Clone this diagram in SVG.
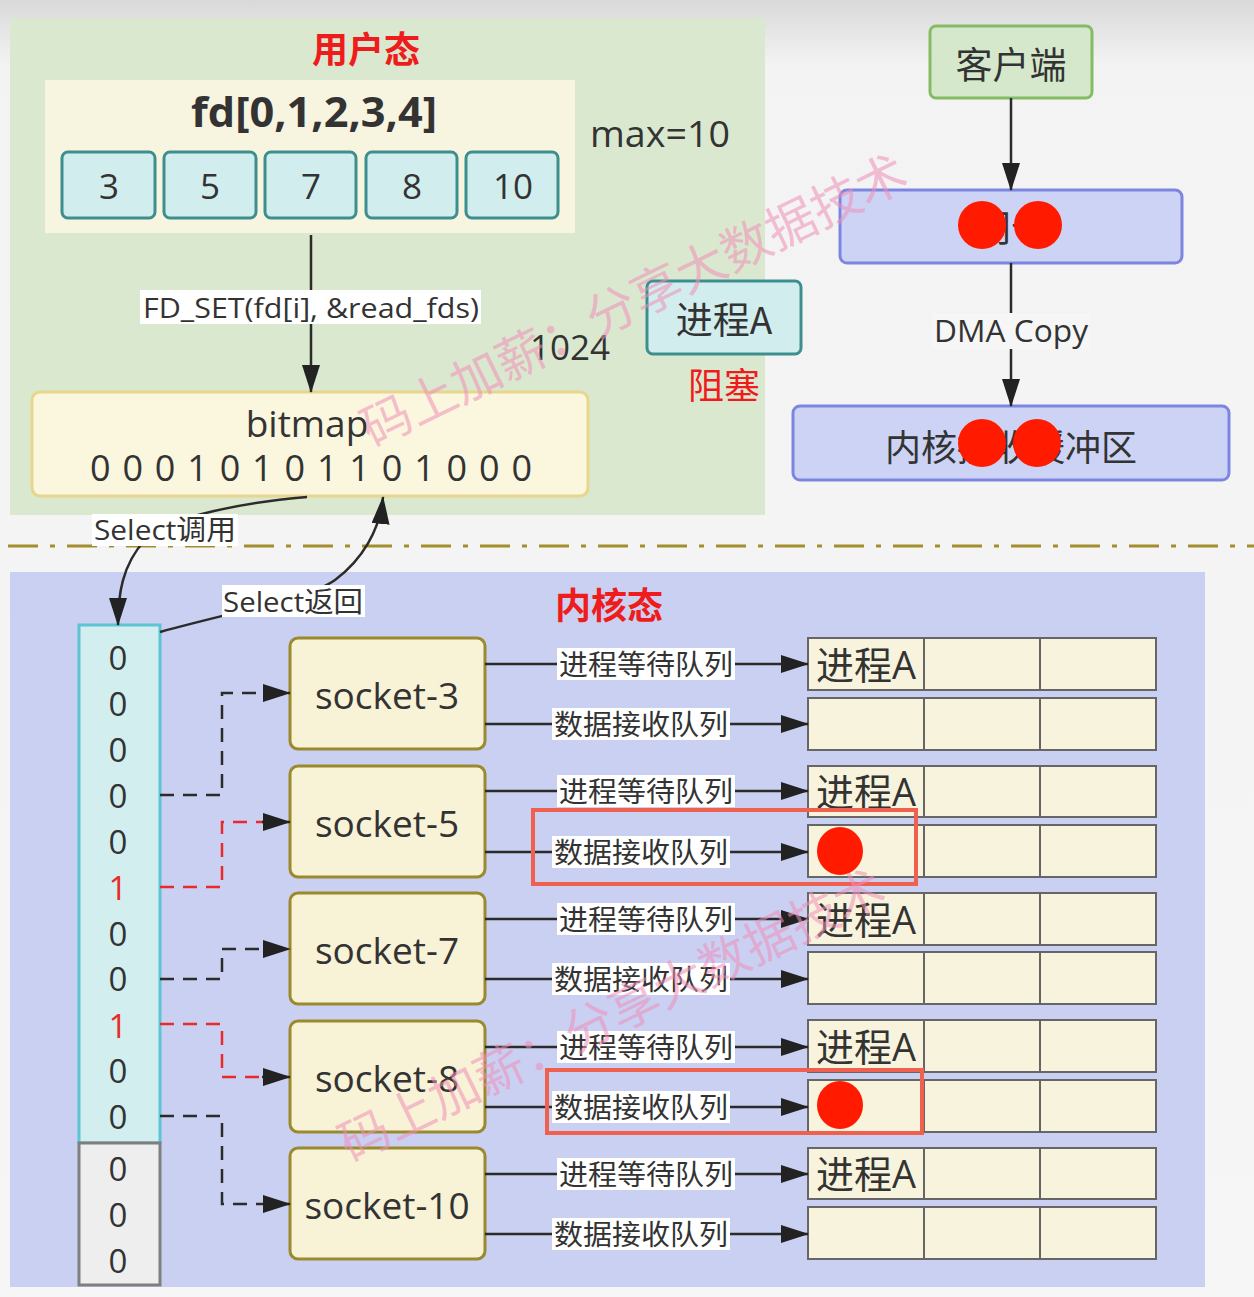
<svg xmlns="http://www.w3.org/2000/svg" width="1254" height="1297" viewBox="0 0 1254 1297">
<defs>
<linearGradient id="bg" x1="0" y1="0" x2="0" y2="1">
<stop offset="0" stop-color="#d9d9d9"/>
<stop offset="0.05" stop-color="#f3f3f3"/>
<stop offset="1" stop-color="#f6f6f6"/>
</linearGradient>
<marker id="ah" viewBox="0 0 28 18" refX="27" refY="9" markerWidth="28" markerHeight="18" markerUnits="userSpaceOnUse" orient="auto">
<path d="M0,0 L28,9 L0,18 Z" fill="#222"/>
</marker>
<style>
text{font-family:"Open Sans","Noto Sans CJK SC",sans-serif;fill:#333;dominant-baseline:central;text-anchor:middle}
.cjk{font-family:"Noto Sans CJK SC",sans-serif}
.red{fill:#ee1c1c;font-weight:bold}
.fdbox{fill:#d2eded;stroke:#3d8f8f;stroke-width:3}
.sock{fill:#f8f2d6;stroke:#9a8a2e;stroke-width:3}
.cell{fill:#f7f3dc;stroke:#666;stroke-width:2}
.lav{fill:#cdd3f4;stroke:#7c86e0;stroke-width:3}
.conn{fill:none;stroke:#2b2b2b;stroke-width:2.5}
.dash{fill:none;stroke:#2b2b2b;stroke-width:2.5;stroke-dasharray:14 9}
.rdash{fill:none;stroke:#e82a2a;stroke-width:2.5;stroke-dasharray:14 9}
.lbl{fill:#ffffff}
.hl{fill:none;stroke:#f0604e;stroke-width:4}
.dot{fill:#ff1a00}
.wm{fill:#f090b8;opacity:0.55;font-size:50px;text-anchor:start;dominant-baseline:alphabetic;font-family:"Noto Sans CJK SC",sans-serif}
</style>
</defs>
<rect x="0" y="0" width="1254" height="1297" fill="url(#bg)"/>

<!-- user space panel -->
<g id="user-panel">
<rect x="10" y="18" width="755" height="497" fill="#dae8d0"/>
<text x="366" y="47" class="red cjk" font-size="36">用户态</text>
</g>

<g id="fd-array">
<rect x="45" y="80" width="530" height="153" fill="#f7f4df"/>
<text x="314" y="110" font-size="42" font-weight="bold" textLength="246" lengthAdjust="spacingAndGlyphs">fd[0,1,2,3,4]</text>
<rect class="fdbox" x="62" y="152" width="93" height="66" rx="6"/>
<text x="109" y="185" font-size="35">3</text>
<rect class="fdbox" x="164" y="152" width="92" height="66" rx="6"/>
<text x="210" y="185" font-size="35">5</text>
<rect class="fdbox" x="265" y="152" width="91" height="66" rx="6"/>
<text x="311" y="185" font-size="35">7</text>
<rect class="fdbox" x="366" y="152" width="91" height="66" rx="6"/>
<text x="412" y="185" font-size="35">8</text>
<rect class="fdbox" x="466" y="152" width="92" height="66" rx="6"/>
<text x="513" y="185" font-size="35">10</text>
</g>

<g id="max-label"><text x="660" y="133" font-size="36" textLength="140" lengthAdjust="spacingAndGlyphs">max=10</text></g>
<g id="n1024"><text x="570" y="346" font-size="35">1024</text></g>

<g id="process-a">
<rect x="647" y="281" width="154" height="73" rx="6" fill="#d2eded" stroke="#3d8f8f" stroke-width="3"/>
<text x="724" y="318" font-size="37" class="cjk">进程A</text>
<text x="724" y="383" font-size="36" class="cjk" style="fill:#ee1c1c">阻塞</text>
</g>

<g id="bitmap">
<rect x="32" y="392" width="556" height="104" rx="8" fill="#fbf7de" stroke="#e8d68c" stroke-width="3"/>
<text x="307" y="422" font-size="37">bitmap</text>
<text x="311" y="467" font-size="36" textLength="442" lengthAdjust="spacing">0 0 0 1 0 1 0 1 1 0 1 0 0 0</text>
</g>

<!-- top right -->
<g id="client">
<rect x="930" y="26" width="162" height="72" rx="6" fill="#d5e8cc" stroke="#86bb66" stroke-width="3"/>
<text x="1011" y="63" font-size="37" class="cjk">客户端</text>
</g>
<g id="nic">
<rect class="lav" x="840" y="190" width="342" height="73" rx="7"/>
<text x="1011" y="226" font-size="37" class="cjk">网卡</text>
<circle class="dot" cx="982" cy="225" r="24"/>
<circle class="dot" cx="1038" cy="225" r="24"/>
</g>
<g id="kernel-buffer">
<rect class="lav" x="793" y="406" width="436" height="74" rx="7"/>
<text x="1011" y="445" font-size="36" class="cjk">内核接收缓冲区</text>
<circle class="dot" cx="982" cy="443" r="24"/>
<circle class="dot" cx="1037" cy="443" r="24"/>
</g>

<!-- separator -->
<line x1="8" y1="546" x2="1254" y2="546" stroke="#a38d2d" stroke-width="3" stroke-dasharray="30 12 5 12"/>

<!-- kernel panel -->
<g id="kernel-panel">
<rect x="10" y="572" width="1195" height="715" fill="#cad0f2"/>
<text x="609" y="603" class="red cjk" font-size="36">内核态</text>
</g>

<g id="fd-column">
<rect x="79" y="625" width="81" height="518" fill="#d2eeee" stroke="#5cc4d2" stroke-width="3"/>
<rect x="79" y="1143" width="81" height="142" fill="#eeeeee" stroke="#7f7f7f" stroke-width="3"/>
<g font-size="33">
<text x="118" y="657">0</text>
<text x="118" y="703">0</text>
<text x="118" y="749">0</text>
<text x="118" y="795">0</text>
<text x="118" y="841">0</text>
<text x="118" y="887" style="fill:#e82a2a">1</text>
<text x="118" y="933">0</text>
<text x="118" y="978">0</text>
<text x="118" y="1025" style="fill:#e82a2a">1</text>
<text x="118" y="1070">0</text>
<text x="118" y="1116">0</text>
<text x="118" y="1168">0</text>
<text x="118" y="1214">0</text>
<text x="118" y="1260">0</text>
</g>
</g>

<g id="socket-3"><rect class="sock" x="290" y="638" width="195" height="111" rx="8"/><text x="387" y="694" font-size="37">socket-3</text></g>
<g id="socket-5"><rect class="sock" x="290" y="766" width="195" height="111" rx="8"/><text x="387" y="822" font-size="37">socket-5</text></g>
<g id="socket-7"><rect class="sock" x="290" y="893" width="195" height="111" rx="8"/><text x="387" y="949" font-size="37">socket-7</text></g>
<g id="socket-8"><rect class="sock" x="290" y="1021" width="195" height="111" rx="8"/><text x="387" y="1077" font-size="37">socket-8</text></g>
<g id="socket-10"><rect class="sock" x="290" y="1148" width="195" height="111" rx="8"/><text x="387" y="1204" font-size="37">socket-10</text></g>

<g id="queues">
<g class="cells">
<rect class="cell" x="808" y="638" width="116" height="52"/><rect class="cell" x="924" y="638" width="116" height="52"/><rect class="cell" x="1040" y="638" width="116" height="52"/>
<rect class="cell" x="808" y="698" width="116" height="52"/><rect class="cell" x="924" y="698" width="116" height="52"/><rect class="cell" x="1040" y="698" width="116" height="52"/>
<rect class="cell" x="808" y="766" width="116" height="51"/><rect class="cell" x="924" y="766" width="116" height="51"/><rect class="cell" x="1040" y="766" width="116" height="51"/>
<rect class="cell" x="808" y="825" width="116" height="52"/><rect class="cell" x="924" y="825" width="116" height="52"/><rect class="cell" x="1040" y="825" width="116" height="52"/>
<rect class="cell" x="808" y="893" width="116" height="52"/><rect class="cell" x="924" y="893" width="116" height="52"/><rect class="cell" x="1040" y="893" width="116" height="52"/>
<rect class="cell" x="808" y="952" width="116" height="52"/><rect class="cell" x="924" y="952" width="116" height="52"/><rect class="cell" x="1040" y="952" width="116" height="52"/>
<rect class="cell" x="808" y="1020" width="116" height="52"/><rect class="cell" x="924" y="1020" width="116" height="52"/><rect class="cell" x="1040" y="1020" width="116" height="52"/>
<rect class="cell" x="808" y="1080" width="116" height="52"/><rect class="cell" x="924" y="1080" width="116" height="52"/><rect class="cell" x="1040" y="1080" width="116" height="52"/>
<rect class="cell" x="808" y="1148" width="116" height="51"/><rect class="cell" x="924" y="1148" width="116" height="51"/><rect class="cell" x="1040" y="1148" width="116" height="51"/>
<rect class="cell" x="808" y="1207" width="116" height="52"/><rect class="cell" x="924" y="1207" width="116" height="52"/><rect class="cell" x="1040" y="1207" width="116" height="52"/>
</g>
<g font-size="38" class="cjk">
<text x="866" y="664">进程A</text>
<text x="866" y="791">进程A</text>
<text x="866" y="919">进程A</text>
<text x="866" y="1046">进程A</text>
<text x="866" y="1173">进程A</text>
</g>
<ellipse class="dot" cx="840" cy="851" rx="23" ry="24"/>
<ellipse class="dot" cx="840" cy="1105" rx="23" ry="24"/>
</g>

<!-- connectors -->
<g id="connectors">
<line class="conn" x1="311" y1="235" x2="311" y2="392" marker-end="url(#ah)"/>
<line class="conn" x1="1011" y1="98" x2="1011" y2="190" marker-end="url(#ah)"/>
<line class="conn" x1="1011" y1="263" x2="1011" y2="406" marker-end="url(#ah)"/>
<path class="conn" d="M307,497 C250,502 170,515 145,540 C122,565 118,595 118,625" marker-end="url(#ah)"/>
<path class="conn" d="M160,632 C240,610 310,598 335,580 C362,560 380,530 383,497" marker-end="url(#ah)"/>

<path class="dash" d="M160,795 H222 V693 H290" marker-end="url(#ah)"/>
<path class="rdash" d="M160,887 H222 V822 H264"/>
<path class="conn" d="M262,822 H290" marker-end="url(#ah)"/>
<path class="dash" d="M160,979 H222 V949 H290" marker-end="url(#ah)"/>
<path class="rdash" d="M160,1024 H222 V1077 H264"/>
<path class="conn" d="M262,1077 H290" marker-end="url(#ah)"/>
<path class="dash" d="M160,1116 H222 V1204 H290" marker-end="url(#ah)"/>

<line class="conn" x1="485" y1="664" x2="808" y2="664" marker-end="url(#ah)"/>
<line class="conn" x1="485" y1="724" x2="808" y2="724" marker-end="url(#ah)"/>
<line class="conn" x1="485" y1="791" x2="808" y2="791" marker-end="url(#ah)"/>
<line class="conn" x1="485" y1="852" x2="808" y2="852" marker-end="url(#ah)"/>
<line class="conn" x1="485" y1="919" x2="808" y2="919" marker-end="url(#ah)"/>
<line class="conn" x1="485" y1="979" x2="808" y2="979" marker-end="url(#ah)"/>
<line class="conn" x1="485" y1="1047" x2="808" y2="1047" marker-end="url(#ah)"/>
<line class="conn" x1="485" y1="1107" x2="808" y2="1107" marker-end="url(#ah)"/>
<line class="conn" x1="485" y1="1174" x2="808" y2="1174" marker-end="url(#ah)"/>
<line class="conn" x1="485" y1="1234" x2="808" y2="1234" marker-end="url(#ah)"/>
</g>

<!-- connector labels -->
<g id="connector-labels">
<rect class="lbl" x="140" y="290" width="341" height="34"/>
<text x="311" y="307" font-size="28" textLength="336" lengthAdjust="spacingAndGlyphs">FD_SET(fd[i], &amp;read_fds)</text>
<rect x="932" y="313" width="158" height="36" fill="#f6f6f6"/>
<text x="1011" y="330" font-size="31" textLength="154" lengthAdjust="spacingAndGlyphs">DMA Copy</text>
<rect class="lbl" x="92" y="514" width="146" height="32"/>
<text x="165" y="529" font-size="28" textLength="142" lengthAdjust="spacingAndGlyphs">Select调用</text>
<rect class="lbl" x="222" y="585" width="143" height="32"/>
<text x="293" y="601" font-size="28" textLength="140" lengthAdjust="spacingAndGlyphs">Select返回</text>
<g font-size="28" class="cjk">
<rect class="lbl" x="557" y="648" width="178" height="32"/><text x="646" y="664" textLength="174" lengthAdjust="spacingAndGlyphs">进程等待队列</text>
<rect class="lbl" x="552" y="708" width="178" height="32"/><text x="641" y="724" textLength="174" lengthAdjust="spacingAndGlyphs">数据接收队列</text>
<rect class="lbl" x="557" y="775" width="178" height="32"/><text x="646" y="791" textLength="174" lengthAdjust="spacingAndGlyphs">进程等待队列</text>
<rect class="lbl" x="552" y="836" width="178" height="32"/><text x="641" y="852" textLength="174" lengthAdjust="spacingAndGlyphs">数据接收队列</text>
<rect class="lbl" x="557" y="903" width="178" height="32"/><text x="646" y="919" textLength="174" lengthAdjust="spacingAndGlyphs">进程等待队列</text>
<rect class="lbl" x="552" y="963" width="178" height="32"/><text x="641" y="979" textLength="174" lengthAdjust="spacingAndGlyphs">数据接收队列</text>
<rect class="lbl" x="557" y="1031" width="178" height="32"/><text x="646" y="1047" textLength="174" lengthAdjust="spacingAndGlyphs">进程等待队列</text>
<rect class="lbl" x="552" y="1091" width="178" height="32"/><text x="641" y="1107" textLength="174" lengthAdjust="spacingAndGlyphs">数据接收队列</text>
<rect class="lbl" x="557" y="1158" width="178" height="32"/><text x="646" y="1174" textLength="174" lengthAdjust="spacingAndGlyphs">进程等待队列</text>
<rect class="lbl" x="552" y="1218" width="178" height="32"/><text x="641" y="1234" textLength="174" lengthAdjust="spacingAndGlyphs">数据接收队列</text>
</g>
</g>

<!-- highlights -->
<g id="highlights">
<rect class="hl" x="533" y="810" width="383" height="74"/>
<rect class="hl" x="547" y="1070" width="375" height="63"/>
</g>

<!-- watermark -->
<g id="watermark">
<text class="wm" transform="translate(372,448) rotate(-26)">码上加薪：分享大数据技术</text>
<text class="wm" transform="translate(350,1163) rotate(-26)">码上加薪：分享大数据技术</text>
</g>
</svg>
